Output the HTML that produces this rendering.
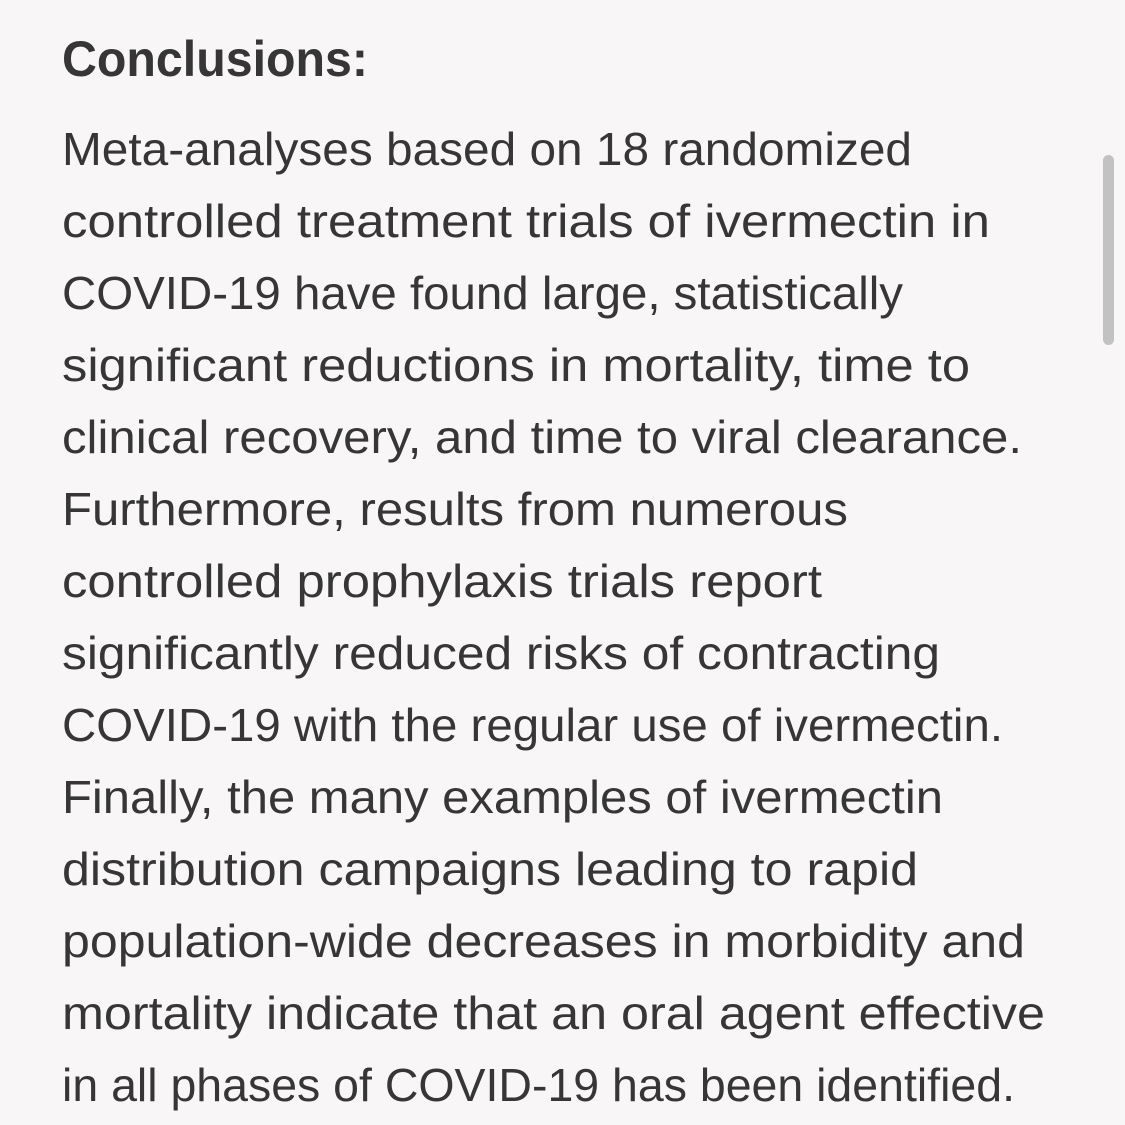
<!DOCTYPE html>
<html><head><meta charset="utf-8"><style>
html,body{margin:0;padding:0;background:#f8f6f6;}
svg{display:block}
text{font-family:"Liberation Sans",sans-serif;fill:#363636;}
</style></head><body>
<svg width="1125" height="1125" viewBox="0 0 1125 1125">
<rect width="1125" height="1125" fill="#f8f6f6"/>
<text x="62" y="76" font-size="50" font-weight="bold" textLength="306" lengthAdjust="spacingAndGlyphs">Conclusions:</text>
<g font-size="46">
<text x="62" y="165" textLength="850" lengthAdjust="spacingAndGlyphs">Meta-analyses based on 18 randomized</text>
<text x="62" y="237" textLength="928" lengthAdjust="spacingAndGlyphs">controlled treatment trials of ivermectin in</text>
<text x="62" y="309" textLength="841" lengthAdjust="spacingAndGlyphs">COVID-19 have found large, statistically</text>
<text x="62" y="381" textLength="908" lengthAdjust="spacingAndGlyphs">significant reductions in mortality, time to</text>
<text x="62" y="453" textLength="960" lengthAdjust="spacingAndGlyphs">clinical recovery, and time to viral clearance.</text>
<text x="62" y="525" textLength="786" lengthAdjust="spacingAndGlyphs">Furthermore, results from numerous</text>
<text x="62" y="597" textLength="760" lengthAdjust="spacingAndGlyphs">controlled prophylaxis trials report</text>
<text x="62" y="669" textLength="878" lengthAdjust="spacingAndGlyphs">significantly reduced risks of contracting</text>
<text x="62" y="741" textLength="941" lengthAdjust="spacingAndGlyphs">COVID-19 with the regular use of ivermectin.</text>
<text x="62" y="813" textLength="881" lengthAdjust="spacingAndGlyphs">Finally, the many examples of ivermectin</text>
<text x="62" y="885" textLength="856" lengthAdjust="spacingAndGlyphs">distribution campaigns leading to rapid</text>
<text x="62" y="957" textLength="963" lengthAdjust="spacingAndGlyphs">population-wide decreases in morbidity and</text>
<text x="62" y="1029" textLength="983" lengthAdjust="spacingAndGlyphs">mortality indicate that an oral agent effective</text>
<text x="62" y="1101" textLength="953" lengthAdjust="spacingAndGlyphs">in all phases of COVID-19 has been identified.</text>
</g>
<rect x="1103" y="155" width="11" height="190" rx="5.5" fill="#c2c2c2"/>
</svg>
</body></html>
